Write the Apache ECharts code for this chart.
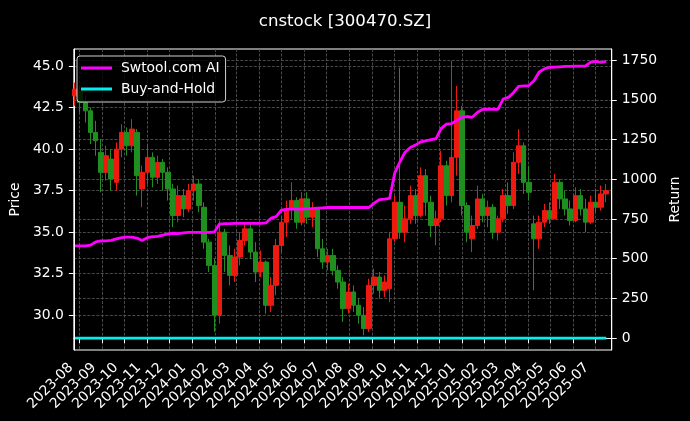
<!DOCTYPE html>
<html>
<head>
<meta charset="utf-8">
<script src="https://cdn.jsdelivr.net/npm/echarts@6/dist/echarts.min.js"></script>
<style>
html,body{margin:0;padding:0;background:#000;}
#chart{width:690px;height:421px;}
</style>
</head>
<body>
<div id="chart"></div>
<script>
// ---- data (weekly candles) ----
const weekDates = [
'2023-07-26','2023-08-02','2023-08-09','2023-08-16','2023-08-23','2023-08-30','2023-09-06','2023-09-13','2023-09-20','2023-09-27',
'2023-10-04','2023-10-11','2023-10-18','2023-10-25','2023-11-01','2023-11-08','2023-11-15','2023-11-22','2023-11-29','2023-12-06',
'2023-12-13','2023-12-20','2023-12-27','2024-01-03','2024-01-10','2024-01-17','2024-01-24','2024-01-31','2024-02-07','2024-02-14',
'2024-02-21','2024-02-28','2024-03-06','2024-03-13','2024-03-20','2024-03-27','2024-04-03','2024-04-10','2024-04-17','2024-04-24',
'2024-05-01','2024-05-08','2024-05-15','2024-05-22','2024-05-29','2024-06-05','2024-06-12','2024-06-19','2024-06-26','2024-07-03',
'2024-07-10','2024-07-17','2024-07-24','2024-07-31','2024-08-07','2024-08-14','2024-08-21','2024-08-28','2024-09-04','2024-09-11',
'2024-09-18','2024-09-25','2024-10-02','2024-10-09','2024-10-16','2024-10-23','2024-10-30','2024-11-06','2024-11-13','2024-11-20',
'2024-11-27','2024-12-04','2024-12-11','2024-12-18','2024-12-25','2025-01-01','2025-01-08','2025-01-15','2025-01-22','2025-01-29',
'2025-02-05','2025-02-12','2025-02-19','2025-02-26','2025-03-05','2025-03-12','2025-03-19','2025-03-26','2025-04-02','2025-04-09',
'2025-04-16','2025-04-23','2025-04-30','2025-05-07','2025-05-14','2025-05-21','2025-05-28','2025-06-04','2025-06-11','2025-06-18',
'2025-06-25','2025-07-02','2025-07-09','2025-07-16'
];
const opens = [
43.2,43.5,42.8,42.3,41.0,39.8,38.6,39.4,38.0,40.0,
41.0,40.2,41.0,37.6,38.6,39.5,38.3,39.2,38.6,37.6,
36.0,37.2,36.4,37.5,37.9,36.5,34.4,33.0,30.0,35.0,
33.6,32.4,33.5,34.5,35.2,33.8,32.6,33.2,30.6,31.8,
34.2,35.6,36.4,36.9,35.6,37.0,35.9,36.4,34.0,33.2,
33.6,32.7,32.0,30.4,31.4,30.6,30.0,29.2,31.8,32.3,
31.5,31.6,34.6,36.8,35.0,35.8,37.2,36.0,38.4,36.8,
35.4,35.8,39.0,37.2,39.5,42.3,36.6,34.6,35.4,37.0,
36.0,36.5,35.0,35.8,37.2,36.6,39.2,40.2,38.0,35.5,
34.6,35.6,36.3,35.8,38.0,37.0,36.4,35.7,37.2,36.4,
35.6,36.8,36.5,37.3
];
const closes = [
43.6,42.8,42.3,41.0,40.5,38.6,39.6,38.2,40.0,41.0,
40.2,41.2,38.4,38.6,39.5,38.3,39.2,38.6,37.6,36.0,
37.2,36.4,37.5,37.9,36.6,34.4,33.0,30.0,35.0,33.6,
32.4,33.5,34.5,35.2,33.8,32.6,33.2,30.6,31.8,34.2,
35.6,36.4,36.9,35.6,37.0,35.9,36.4,34.0,33.2,33.6,
32.7,32.0,30.4,31.4,30.6,30.0,29.2,31.8,32.3,31.5,
32.0,34.6,36.8,35.0,35.8,37.2,36.0,38.4,36.8,35.4,
35.8,39.0,37.2,39.5,42.3,36.6,35.0,35.4,37.0,36.0,
36.5,35.0,35.8,37.2,36.6,39.2,40.2,38.0,37.4,34.6,
35.6,36.3,35.8,38.0,37.0,36.4,35.7,37.2,36.4,35.6,
36.8,36.5,37.3,37.5
];
const lows = [
42.6,42.2,41.6,40.3,39.6,37.4,38.1,37.5,37.5,39.5,
39.6,39.8,37.2,36.5,37.9,37.7,37.9,37.5,36.9,35.3,
35.6,35.9,36.2,36.9,36.2,34.0,32.6,29.0,29.5,32.6,
31.8,32.0,33.0,34.2,33.4,32.0,32.3,30.1,30.2,31.2,
33.8,34.7,35.8,35.2,35.4,35.5,35.3,33.5,32.8,32.7,
32.4,31.6,29.6,30.1,30.2,29.5,28.8,29.0,31.3,31.0,
31.1,30.8,34.4,34.6,34.4,35.5,35.5,35.9,36.0,34.7,
34.2,35.6,36.6,36.8,38.4,36.0,34.4,33.8,35.2,35.6,
35.3,34.6,34.5,35.6,36.1,36.4,38.5,37.3,36.9,31.5,
34.0,35.3,35.5,35.8,36.4,36.0,35.4,35.6,36.0,35.0,
35.5,36.2,36.3,36.8
];
const highs = [
44.0,43.8,43.2,42.5,41.7,40.6,40.2,40.0,40.4,41.5,
41.3,41.8,41.2,39.0,40.3,39.8,39.6,39.4,38.9,37.9,
37.8,37.6,37.9,38.4,38.2,36.8,34.6,33.4,35.7,35.2,
34.2,34.0,35.0,35.6,35.5,34.4,33.9,33.3,32.3,34.6,
36.0,36.9,38.0,37.1,37.4,37.4,36.8,36.5,34.6,34.0,
34.0,33.0,32.3,31.9,31.8,31.0,30.5,32.2,32.8,32.6,
32.4,35.0,37.2,44.9,36.6,37.8,37.6,38.9,38.8,37.2,
36.3,39.9,39.3,45.3,43.8,42.6,36.8,36.0,37.8,37.3,
36.9,36.7,36.0,37.6,38.0,39.8,41.2,40.4,39.0,36.0,
36.0,36.7,36.8,38.5,38.2,37.5,36.9,37.7,37.6,37.0,
37.2,37.6,37.8,37.9
];
const aiReturn = [
581,581,581,585,605,612,612,615,625,632,
635,636,630,615,632,638,640,648,656,660,
658,662,665,665,666,666,666,668,718,720,
721,722,722,722,722,722,722,725,755,765,
805,810,812,812,812,815,815,818,820,822,
822,822,822,822,822,822,822,822,850,872,
875,880,1040,1110,1170,1200,1215,1235,1242,1250,
1255,1320,1347,1350,1370,1389,1395,1390,1420,1440,
1442,1440,1440,1505,1515,1545,1585,1588,1590,1620,
1675,1695,1705,1706,1708,1710,1710,1712,1712,1714,
1738,1742,1735,1742
];
const buyHold = [
0,0,0,0,0,0,0,0,0,0,
0,0,0,0,0,0,0,0,0,0,
0,0,0,0,0,0,0,0,0,0,
0,0,0,0,0,0,0,0,0,0,
0,0,0,0,0,0,0,0,0,0,
0,0,0,0,0,0,0,0,0,0,
0,0,0,0,0,0,0,0,0,0,
0,0,0,0,0,0,0,0,0,0,
0,0,0,0,0,0,0,0,0,0,
0,0,0,0,0,0,0,0,0,0,
0,0,0,0
];
const monthTicks = ['2023-08','2023-09','2023-10','2023-11','2023-12','2024-01','2024-02','2024-03','2024-04','2024-05','2024-06','2024-07',
'2024-08','2024-09','2024-10','2024-11','2024-12','2025-01','2025-02','2025-03','2025-04','2025-05','2025-06','2025-07'];
const priceTicks = [30, 32.5, 35, 37.5, 40, 42.5, 45];
const returnTicks = [0, 250, 500, 750, 1000, 1250, 1500, 1750];
const xStart = '2023-07-24 08';
const xEnd = '2025-07-23 12';

// ---- build ----
const FONT = 'DejaVu Sans';
function ts(s) {
  const y = +s.slice(0, 4), m = +s.slice(5, 7) - 1;
  const d = s.length >= 10 ? +s.slice(8, 10) : 1;
  const h = s.length >= 13 ? +s.slice(11, 13) : 0;
  return new Date(y, m, d, h).getTime();
}
function fmtMonth(v) {
  const d = new Date(v);
  const m = d.getMonth() + 1;
  return d.getFullYear() + '-' + (m < 10 ? '0' + m : m);
}
const monthTs = monthTicks.map(ts);
const weekTs = weekDates.map(ts);
const candleData = weekTs.map((t, i) => [t, opens[i], closes[i], lows[i], highs[i]]);
const aiData = weekTs.map((t, i) => [t, aiReturn[i]]);
const bhData = weekTs.map((t, i) => [t, buyHold[i]]);

const gridLine = { show: true, lineStyle: { color: '#5a5a5a', width: 0.8, type: [3, 1.5] } };
const tickStyle = { show: true, inside: false, length: 5, lineStyle: { color: '#fff', width: 1 } };

const chart = echarts.init(document.getElementById('chart'), null, { renderer: 'canvas' });
chart.setOption({
  backgroundColor: '#000',
  animation: false,
  textStyle: { fontFamily: FONT },
  title: {
    text: 'cnstock [300470.SZ]',
    left: 'center',
    top: 8,
    textStyle: { color: '#fff', fontSize: 16.6, fontWeight: 'normal', fontFamily: FONT }
  },
  legend: {
    data: [
      { name: 'Swtool.com AI', icon: 'rect' },
      { name: 'Buy-and-Hold', icon: 'rect' }
    ],
    orient: 'vertical',
    left: 77,
    top: 56,
    itemWidth: 31,
    itemHeight: 3,
    itemGap: 5,
    padding: [4, 6, 5, 4],
    borderColor: '#d0d0d0',
    borderWidth: 1,
    borderRadius: 3,
    backgroundColor: 'rgba(0,0,0,0.8)',
    textStyle: { color: '#fff', fontSize: 13.9, fontFamily: FONT, lineHeight: 16, padding: [0, 0, 0, 4] }
  },
  grid: {
    left: 70, top: 49, width: 544, height: 301,
    show: true, borderColor: '#fff', borderWidth: 1, backgroundColor: 'transparent'
  },
  xAxis: {
    type: 'value',
    min: ts(xStart),
    max: ts(xEnd),
    axisLine: { show: true, lineStyle: { color: '#fff' } },
    axisTick: Object.assign({ customValues: monthTs }, tickStyle),
    axisLabel: {
      customValues: monthTs,
      formatter: fmtMonth,
      rotate: 45,
      margin: 7,
      padding: [0, 12, 0, 0],
      color: '#fff',
      fontSize: 13.9,
      fontFamily: FONT
    },
    splitLine: gridLine
  },
  yAxis: [
    {
      type: 'value',
      position: 'left',
      min: 27.91,
      max: 46.02,
      name: 'Price',
      nameLocation: 'middle',
      nameGap: 44,
      nameRotate: 90,
      nameTextStyle: { color: '#fff', fontSize: 13.9, fontFamily: FONT },
      axisLine: { show: true, lineStyle: { color: '#fff' } },
      axisTick: Object.assign({ customValues: priceTicks }, tickStyle),
      axisLabel: { customValues: priceTicks, formatter: v => v.toFixed(1), color: '#fff', fontSize: 13.9, fontFamily: FONT, margin: 10 },
      splitLine: gridLine
    },
    {
      type: 'value',
      position: 'right',
      min: -75,
      max: 1820,
      name: 'Return',
      nameLocation: 'middle',
      nameGap: 49,
      nameRotate: 90,
      nameTextStyle: { color: '#fff', fontSize: 13.9, fontFamily: FONT },
      axisLine: { show: true, lineStyle: { color: '#fff' } },
      axisTick: Object.assign({ customValues: returnTicks }, tickStyle),
      axisLabel: { customValues: returnTicks, formatter: v => String(v), color: '#fff', fontSize: 13.9, fontFamily: FONT, margin: 10 },
      splitLine: gridLine
    }
  ],
  series: [
    {
      name: 'Price',
      type: 'candlestick',
      xAxisIndex: 0,
      yAxisIndex: 0,
      barWidth: 5,
      data: candleData,
      itemStyle: {
        color: '#ee1a10', color0: '#1f8f1f',
        borderColor: '#ee1a10', borderColor0: '#1f8f1f',
        borderWidth: 1
      },
      z: 2
    },
    {
      name: 'Swtool.com AI',
      type: 'line',
      yAxisIndex: 1,
      data: aiData,
      showSymbol: false,
      color: '#ff00ff',
      lineStyle: { color: '#ff00ff', width: 2.8 },
      z: 3
    },
    {
      name: 'Buy-and-Hold',
      type: 'line',
      yAxisIndex: 1,
      data: bhData,
      showSymbol: false,
      color: '#00f0f0',
      lineStyle: { color: '#00f0f0', width: 2.8 },
      z: 4
    }
  ]
});
</script>
</body>
</html>
